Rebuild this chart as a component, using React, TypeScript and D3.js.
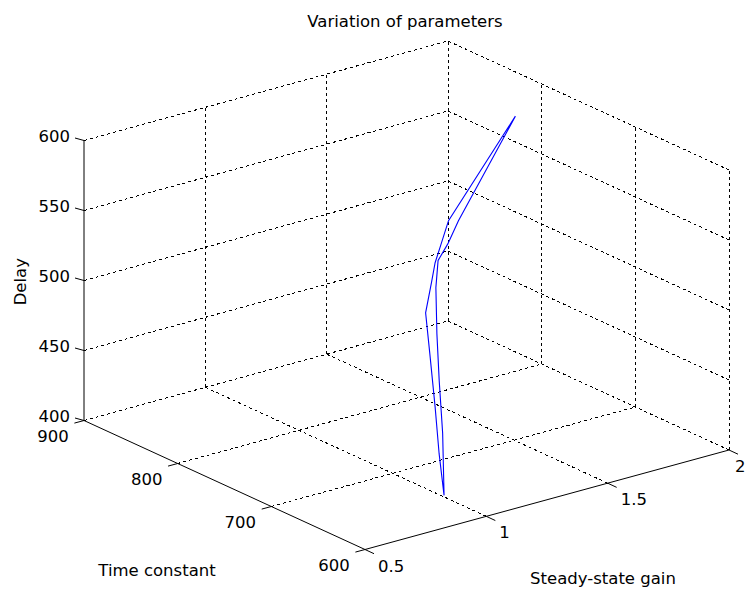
import * as React from "react";
import { line, scaleLinear } from "d3";

// axis ranges and ticks
const gainTicks = [0.5, 1, 1.5, 2];
const tauTicks = [600, 700, 800, 900];
const delayTicks = [400, 450, 500, 550, 600];

// estimated parameter trajectory (goes up one side, comes back down the other)
const gain = [0.93, 1.04, 1.13, 1.19, 1.29, 1.33, 1.37, 1.41, 1.83, 1.4, 1.34, 1.31, 1.3, 1.24, 1.18, 1.09, 1.01, 0.93];
const timeConst = [627, 657, 684, 702, 729, 737, 737, 736, 784, 744, 737, 735, 736, 727, 707, 678, 653, 627];
const delay = [410, 440, 465, 490, 510, 525, 535, 550, 590, 548, 535, 525, 512, 495, 475, 450, 428, 410];

const W = 747;
const H = 593;
const font = "'DejaVu Sans', Verdana, sans-serif";

export default function App() {
  // unit scales for each axis
  const xS = scaleLinear().domain([0.5, 2]).range([0, 1]);
  const yS = scaleLinear().domain([600, 900]).range([0, 1]);
  const zS = scaleLinear().domain([400, 600]).range([0, 1]);

  // orthographic projection of the unit cube
  const origin = [365, 549.5];
  const ex = [364, -99.5];
  const ey = [-281, -129];
  const ez = [0, -280];
  const proj = (gx: number, ty: number, dz: number): [number, number] => {
    const u = xS(gx), v = yS(ty), w = zS(dz);
    return [
      origin[0] + u * ex[0] + v * ey[0] + w * ez[0],
      origin[1] + u * ex[1] + v * ey[1] + w * ez[1],
    ];
  };

  const seg = (a: [number, number], b: [number, number], key: string, dashed = true) => (
    <line
      key={key}
      x1={a[0]} y1={a[1]} x2={b[0]} y2={b[1]}
      stroke="#000"
      strokeWidth={1}
      strokeDasharray={dashed ? "3,3" : undefined}
    />
  );

  const [x0, x1] = [0.5, 2];
  const [y0, y1] = [600, 900];
  const [z0, z1] = [400, 600];

  const grid: React.ReactNode[] = [];
  // back wall (time constant = 900)
  gainTicks.filter((g) => g !== x0).forEach((g) => grid.push(seg(proj(g, y1, z0), proj(g, y1, z1), `bv${g}`)));
  delayTicks.forEach((d) => grid.push(seg(proj(x0, y1, d), proj(x1, y1, d), `bh${d}`)));
  // right wall (gain = 2)
  tauTicks.filter((t) => t !== y1).forEach((t) => grid.push(seg(proj(x1, t, z0), proj(x1, t, z1), `rv${t}`)));
  delayTicks.forEach((d) => grid.push(seg(proj(x1, y0, d), proj(x1, y1, d), `rh${d}`)));
  // floor (delay = 400)
  gainTicks.filter((g) => g !== x0).forEach((g) => grid.push(seg(proj(g, y0, z0), proj(g, y1, z0), `fx${g}`)));
  tauTicks.filter((t) => t !== y0).forEach((t) => grid.push(seg(proj(x0, t, z0), proj(x1, t, z0), `fy${t}`)));

  const pts = gain.map((g, i) => proj(g, timeConst[i], delay[i]));
  const path = line<[number, number]>().x((d) => d[0]).y((d) => d[1])(pts) || "";

  const textStyle = { fontFamily: font, fontSize: 16.5, fill: "#000" };

  return (
    <svg width={W} height={H} style={{ position: "absolute", left: 0, top: 0, background: "#fff" }}>
      <rect width={W} height={H} fill="#fff" />
      <g shapeRendering="crispEdges">{grid}</g>

      {/* solid axes */}
      {seg(proj(x0, y1, z0), proj(x0, y1, z1), "zaxis", false)}
      {seg(proj(x0, y0, z0), proj(x0, y1, z0), "yaxis", false)}
      {seg(proj(x0, y0, z0), proj(x1, y0, z0), "xaxis", false)}

      {/* ticks */}
      {delayTicks.map((d) => {
        const p = proj(x0, y1, d);
        return seg(p, [p[0] - 9, p[1] - 2.5], `zt${d}`, false);
      })}
      {tauTicks.map((t) => {
        const p = proj(x0, t, z0);
        return seg(p, [p[0] - 9.6, p[1] + 2.6], `yt${t}`, false);
      })}
      {gainTicks.map((g) => {
        const p = proj(g, y0, z0);
        return seg(p, [p[0] + 9, p[1] + 4.2], `xt${g}`, false);
      })}

      {/* data */}
      <path d={path} fill="none" stroke="#0000ff" strokeWidth={1.1} />

      {/* tick labels */}
      {delayTicks.map((d) => {
        const p = proj(x0, y1, d);
        return (
          <text key={`zl${d}`} x={70} y={p[1] + 1} textAnchor="end" {...textStyle}>{d}</text>
        );
      })}
      {tauTicks.map((t) => {
        const p = proj(x0, t, z0);
        return (
          <text key={`yl${t}`} x={p[0] - 31} y={p[1] + 21.5} textAnchor="middle" {...textStyle}>{t}</text>
        );
      })}
      {gainTicks.map((g) => {
        const p = proj(g, y0, z0);
        // keep the last label inside the frame
        const lx = Math.min(p[0] + 13, W - 12);
        return (
          <text key={`xl${g}`} x={lx} y={p[1] + 22} textAnchor="start" {...textStyle}>{g}</text>
        );
      })}

      {/* titles */}
      <text x={405} y={27} textAnchor="middle" {...textStyle}>Variation of parameters</text>
      <text x={157} y={575.5} textAnchor="middle" {...textStyle}>Time constant</text>
      <text x={603} y={583.5} textAnchor="middle" {...textStyle}>Steady-state gain</text>
      <text transform="translate(25.5,281.7) rotate(-90)" textAnchor="middle" {...textStyle}>Delay</text>
    </svg>
  );
}
